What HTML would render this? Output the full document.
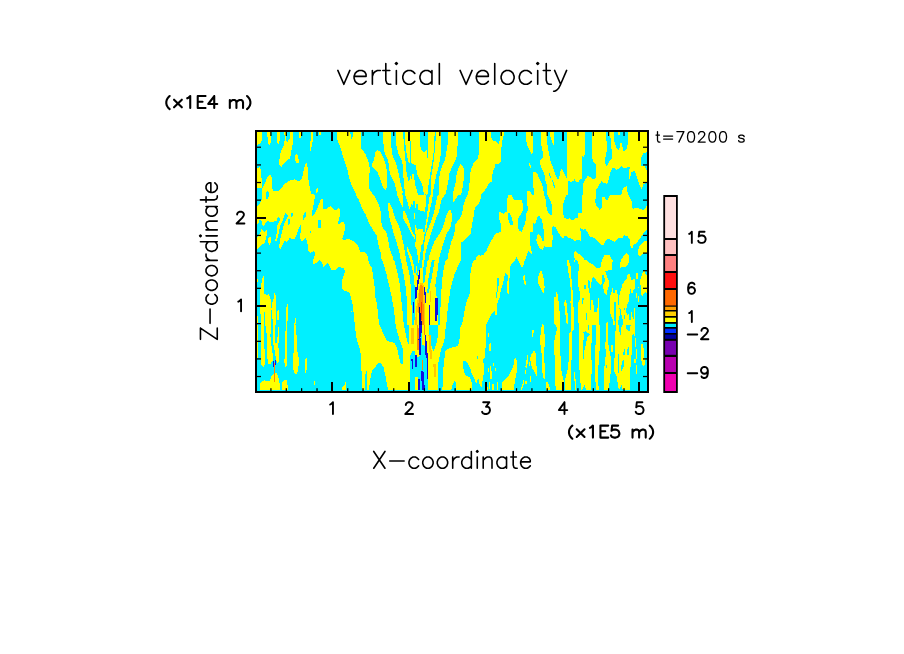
<!DOCTYPE html><html><head><meta charset="utf-8"><title>vertical velocity</title>
<style>html,body{margin:0;padding:0;background:#fff;font-family:"Liberation Sans",sans-serif}svg{display:block}</style></head><body>
<svg width="904" height="654" viewBox="0 0 904 654">
<rect width="904" height="654" fill="#fff"/>
<rect x="256" y="131" width="392" height="261" fill="#00f0ff"/>
<clipPath id="pc"><rect x="256" y="131" width="392" height="261"/></clipPath>
<g shape-rendering="crispEdges" clip-path="url(#pc)">
<svg x="255" y="130" width="80" height="65" viewBox="0 0 805 654" preserveAspectRatio="none">
<rect width="805" height="654" fill="#00f0ff"/>
<polygon fill="#ffff00" points="20,20 70,20 70,110 50,135 20,150"/>
<polygon fill="#ffff00" points="120,20 160,20 165,90 155,140 145,150 130,130 125,60"/>
<polygon fill="#ffff00" points="225,20 252,20 250,100 240,140 225,125 220,80"/>
<polygon fill="#ffff00" points="295,20 312,20 312,100 325,120 350,90 350,20 382,20 382,140 370,180 355,280 290,340 265,370 240,345 250,260 265,200 290,150 300,100"/>
<polygon fill="#ffff00" points="443,20 468,20 465,75 455,90 445,70"/>
<polygon fill="#ffff00" points="565,20 585,20 582,100 570,160 560,210 552,200 555,140 562,80"/>
<polygon fill="#ffff00" points="645,20 665,20 662,45 648,50"/>
<polygon fill="#ffff00" points="410,245 425,240 432,270 442,300 442,330 415,328 403,310 403,260"/>
<polygon fill="#ffff00" points="20,390 45,370 60,400 65,480 72,530 72,585 20,585"/>
<polygon fill="#ffff00" points="72,654 72,585 100,540 120,480 145,455 165,455 170,520 172,590 185,610 240,610 265,590 290,550 330,520 355,508 400,495 430,510 450,510 475,480 490,400 505,345 520,335 530,380 535,480 545,540 555,600 565,640 600,650 600,654"/>
<polygon fill="#00f0ff" points="108,654 112,625 125,612 138,625 142,654"/>
<polygon fill="#ffff00" points="625,585 635,585 632,615 620,635 610,625 615,600"/>
</svg>
<svg x="335" y="130" width="80" height="65" viewBox="0 0 805 654" preserveAspectRatio="none">
<rect width="805" height="654" fill="#00f0ff"/>
<polygon fill="#ffff00" points="20,20 262,20 262,180 310,250 335,310 350,380 345,480 345,590 385,654 215,654 190,600 160,540 135,450 120,380 95,310 70,230 45,150 20,90"/>
<polygon fill="#00f0ff" points="155,20 180,20 178,65 165,88 157,60"/>
<polygon fill="#ffff00" points="425,200 445,210 470,240 495,300 515,370 525,430 525,560 510,605 490,590 470,540 450,480 425,420 400,400 375,375 375,340 395,290 405,230"/>
<polygon fill="#ffff00" points="485,20 565,20 565,150 580,260 600,300 625,370 640,440 660,540 680,620 678,654 627,654 615,600 600,535 580,500 560,460 545,400 535,300 510,260 490,200"/>
<polygon fill="#ffff00" points="612,20 685,20 690,100 698,200 708,290 712,340 715,400 730,470 740,510 750,500 752,460 760,460 765,500 775,490 780,440 790,440 795,470 800,500 805,510 805,654 705,654 700,600 690,500 685,360 670,300 640,240 615,150"/>
<polygon fill="#ffff00" points="700,20 765,20 765,110 750,110 752,330 740,320 728,280 715,200 705,110"/>
<polygon fill="#ffff00" points="765,20 805,20 805,352 790,345 768,332 765,200"/>
</svg>
<svg x="415" y="130" width="80" height="65" viewBox="0 0 805 654" preserveAspectRatio="none">
<rect width="805" height="654" fill="#ffff00"/>
<polygon fill="#00f0ff" points="50,20 130,20 130,280 120,280 118,200 100,210 90,230 70,210 55,170 50,100"/>
<polygon fill="#00f0ff" points="0,350 10,360 15,400 25,450 45,490 65,530 80,580 90,654 30,654 20,610 5,560 0,540"/>
<polygon fill="#00f0ff" points="197,20 210,20 205,150 195,240 188,310 175,400 165,460 160,540 160,654 125,654 135,560 150,470 160,400 175,310 185,240 195,150"/>
<polygon fill="#00f0ff" points="98,565 104,565 106,654 96,654"/>
<polygon fill="#00f0ff" points="262,20 330,20 330,130 315,230 300,300 270,370 250,440 240,520 240,654 185,654 185,600 200,520 215,450 235,380 250,300 262,230"/>
<polygon fill="#00f0ff" points="432,20 645,20 645,230 630,290 590,330 570,380 555,430 550,520 540,600 535,654 465,654 475,600 488,520 492,440 490,380 460,340 440,370 420,440 410,520 395,580 380,654 305,654 320,590 335,520 345,440 365,390 400,320 420,260 425,200 432,100"/>
<polygon fill="#00f0ff" points="765,20 805,20 805,110 780,105 765,70"/>
<polygon fill="#00f0ff" points="805,370 790,400 775,470 770,520 740,540 715,590 690,625 665,654 805,654"/>
</svg>
<svg x="495" y="130" width="80" height="65" viewBox="0 0 805 654" preserveAspectRatio="none">
<rect width="805" height="654" fill="#00f0ff"/>
<polygon fill="#ffff00" points="0,100 15,125 35,140 50,100 50,20 90,20 85,70 70,120 65,180 58,320 40,340 0,340"/>
<polygon fill="#ffff00" points="312,20 380,20 380,120 383,220 368,240 345,200 322,150 312,100"/>
<polygon fill="#ffff00" points="345,330 352,335 362,370 360,385 350,375 342,350"/>
<polygon fill="#ffff00" points="555,20 595,20 595,140 585,150 570,110 555,60"/>
<polygon fill="#ffff00" points="683,20 697,20 695,55 685,50"/>
<polygon fill="#ffff00" points="462,20 525,20 525,130 540,220 555,300 580,370 600,430 625,490 640,490 655,450 660,400 672,395 690,420 715,480 722,490 722,20 805,20 805,480 790,510 765,530 745,505 735,520 735,654 525,654 525,570 510,520 495,440 475,400 452,340 455,300 480,285 480,220 465,150"/>
<polygon fill="#00f0ff" points="545,430 552,440 562,475 558,480 548,465"/>
<polygon fill="#00f0ff" points="575,495 585,510 600,560 600,580 590,570 578,525"/>
<polygon fill="#ffff00" points="380,425 405,425 430,450 450,500 475,550 490,620 492,654 395,654 385,560 380,480"/>
<polygon fill="#ffff00" points="322,618 345,615 360,630 372,654 322,654"/>
</svg>
<svg x="575" y="130" width="80" height="65" viewBox="0 0 805 654" preserveAspectRatio="none">
<rect width="805" height="654" fill="#ffff00"/>
<polygon fill="#00f0ff" points="100,20 170,20 170,280 185,320 210,345 210,480 185,495 160,480 130,455 110,490 85,530 80,654 0,654 0,510 30,530 50,500 68,490 72,265 90,270 100,240"/>
<polygon fill="#00f0ff" points="312,20 335,20 335,60 355,60 365,140 372,290 345,310 330,355 315,360 303,340 303,290 315,240 325,130 312,100"/>
<polygon fill="#00f0ff" points="392,20 432,20 435,55 452,55 455,20 530,20 530,150 515,205 485,208 470,130 455,125 450,170 440,200 420,190 405,140 392,110"/>
<polygon fill="#00f0ff" points="375,378 395,385 420,400 445,385 465,365 485,380 550,375 548,400 545,490 555,490 565,430 590,410 605,420 625,480 650,560 670,590 690,545 724,530 724,654 530,654 525,565 495,575 475,610 465,654 210,654 215,600 240,560 265,515 290,535 325,540 340,490 355,430"/>
<polygon fill="#00f0ff" points="724,225 690,235 668,270 665,360 700,360 715,400 724,412"/>
</svg>
<svg x="255" y="195" width="80" height="65" viewBox="0 0 805 654" preserveAspectRatio="none">
<rect width="805" height="654" fill="#ffff00"/>
<polygon fill="#00f0ff" points="20,0 70,0 68,50 45,90 20,120"/>
<polygon fill="#00f0ff" points="112,0 140,0 135,20 125,45 112,40"/>
<polygon fill="#00f0ff" points="605,0 805,0 805,160 785,140 760,110 740,125 720,140 685,140 682,35 660,50 640,100 615,160 600,190 575,210 572,180 585,120 598,50"/>
<polygon fill="#00f0ff" points="20,300 35,280 45,250 65,250 68,300 90,310 120,265 180,270 216,262 227,227 243,224 251,243 247,266 228,293 216,393 204,462 212,481 231,424 243,354 258,293 281,254 302,185 312,181 327,201 331,216 308,254 281,331 262,408 247,485 243,531 258,543 281,500 293,462 324,470 354,424 366,447 393,447 416,408 439,339 458,301 462,331 454,431 470,470 503,439 510,435 525,470 535,540 540,575 560,580 585,565 600,570 600,610 585,654 20,654 20,545 60,510 95,480 110,440 120,400 120,345 95,370 65,345 45,395 20,430"/>
<polygon fill="#ffff00" points="139,424 158,424 158,485 147,500 131,477 131,454"/>
<polygon fill="#00f0ff" points="362,181 381,181 381,201 370,224 362,216"/>
<polygon fill="#00f0ff" points="335,243 351,243 351,293 335,308"/>
<polygon fill="#00f0ff" points="500,175 515,170 512,210 490,250 482,240 488,205"/>
<polygon fill="#00f0ff" points="635,250 662,255 662,335 635,335"/>
<polygon fill="#00f0ff" points="552,362 565,362 565,382 552,382"/>
</svg>
<svg x="335" y="195" width="80" height="65" viewBox="0 0 805 654" preserveAspectRatio="none">
<rect width="805" height="654" fill="#00f0ff"/>
<polygon fill="#ffff00" points="0,160 35,130 50,145 48,210 35,260 30,300 75,270 95,280 100,350 85,400 72,440 88,460 120,440 150,445 190,465 225,500 245,545 250,570 300,575 325,600 332,654 0,654"/>
<polygon fill="#ffff00" points="210,0 395,0 415,50 445,110 460,170 465,270 475,320 520,380 535,450 545,520 560,570 580,620 590,654 470,654 460,580 445,530 430,470 420,410 375,340 340,280 310,200 270,130 240,50"/>
<polygon fill="#ffff00" points="535,85 552,85 575,130 600,220 630,280 655,350 675,430 690,500 705,590 715,654 660,654 650,590 635,530 615,460 590,390 570,310 548,230 535,140"/>
<polygon fill="#ffff00" points="627,0 680,0 688,60 686,130 668,100 645,50"/>
<polygon fill="#ffff00" points="705,0 805,0 805,55 785,60 780,100 770,95 760,120 750,140 740,110 725,60"/>
<polygon fill="#ffff00" points="685,165 700,165 720,200 745,270 770,350 795,400 805,410 805,450 785,420 760,370 735,320 710,280 690,250 685,200"/>
<polygon fill="#ffff00" points="795,180 805,180 805,250 795,240"/>
<polygon fill="#ffff00" points="725,525 735,525 750,570 770,610 775,654 755,654 745,620 730,580"/>
</svg>
<svg x="415" y="195" width="80" height="65" viewBox="0 0 805 654" preserveAspectRatio="none">
<rect width="805" height="654" fill="#00f0ff"/>
<polygon fill="#ffff00" points="0,0 110,0 108,100 100,180 85,165 60,165 40,150 30,150 25,90 15,95 15,180 0,110"/>
<polygon fill="#ffff00" points="150,0 180,0 170,60 155,130 140,200 130,260 120,285 115,340 110,375 100,375 102,340 108,285 112,260 122,200 130,130 140,60"/>
<polygon fill="#ffff00" points="230,0 300,0 270,40 255,100 240,170 215,230 189,302 167,367 145,447 120,519 105,591 96,654 76,654 84,577 94,483 113,374 135,330 160,270 185,200 200,130 215,60"/>
<polygon fill="#ffff00" points="345,150 360,150 372,200 370,260 355,330 330,370 310,410 290,470 270,540 250,610 240,654 135,654 150,590 170,530 195,470 225,420 255,380 280,330 300,260 320,190"/>
<polygon fill="#ffff00" points="385,0 435,0 420,30 395,60 385,70"/>
<polygon fill="#ffff00" points="530,0 665,0 660,40 640,90 600,130 595,200 580,260 570,320 565,380 540,410 500,450 465,480 460,654 325,654 335,590 350,530 365,470 385,420 400,360 405,300 425,265 450,240 470,200 480,150 490,90 510,40"/>
<polygon fill="#ffff00" points="805,400 785,430 760,470 740,510 720,560 690,600 660,612 640,605 612,630 612,654 805,654"/>
<polygon fill="#ffff00" points="29,342 84,342 84,370 98,370 95,403 87,446 76,490 58,512 58,570 51,591 47,635 45,654 33,654 31,635 22,591 22,570 18,519 11,446 4,381 22,374 22,352"/>
<polygon fill="#ffff00" points="-10,302 8,302 11,330 22,345 22,374 4,381 0,345"/>
<polygon fill="#ffff00" points="-50,356 -36,367 -18,410 0,454 15,497 22,541 22,570 11,533 -14,512 -29,447 -50,418"/>
</svg>
<svg x="495" y="195" width="80" height="65" viewBox="0 0 805 654" preserveAspectRatio="none">
<rect width="805" height="654" fill="#ffff00"/>
<polygon fill="#00f0ff" points="0,0 130,0 122,60 122,150 128,160 100,175 85,190 60,175 40,175 40,240 55,270 60,370 35,380 0,390"/>
<polygon fill="#00f0ff" points="170,0 325,0 325,70 330,160 315,190 305,280 285,330 270,370 250,365 232,340 232,245 245,210 265,190 278,160 282,100 272,55 235,50 200,55 180,30"/>
<polygon fill="#00f0ff" points="132,185 150,180 165,220 180,270 178,300 152,298 135,250"/>
<polygon fill="#00f0ff" points="495,0 530,0 550,40 570,90 575,150 572,200 545,195 525,160 515,100 508,40"/>
<polygon fill="#00f0ff" points="715,0 805,0 805,240 780,255 750,235 720,240 695,230 685,180 688,90 700,50"/>
<polygon fill="#00f0ff" points="380,285 405,290 415,260 430,215 450,215 470,250 480,290 490,350 492,460 475,465 465,420 440,395 425,410 415,450 430,500 450,535 480,550 495,515 515,525 575,525 580,430 575,320 590,312 615,330 640,380 665,420 685,440 705,405 740,430 775,440 805,465 805,570 790,590 790,620 805,640 805,654 305,654 320,610 335,555 350,580 378,605 365,550 352,480 352,375 380,370"/>
<polygon fill="#00f0ff" points="200,654 215,622 235,654"/>
</svg>
<svg x="575" y="195" width="80" height="65" viewBox="0 0 805 654" preserveAspectRatio="none">
<rect width="805" height="654" fill="#ffff00"/>
<polygon fill="#00f0ff" points="0,0 70,0 68,180 35,185 25,230 0,235"/>
<polygon fill="#00f0ff" points="210,0 360,0 340,20 325,55 310,50 300,25 275,25 270,130 250,150 215,110 203,70"/>
<polygon fill="#00f0ff" points="540,0 724,0 724,110 700,140 690,150 620,130 580,140 570,60 555,30"/>
<polygon fill="#00f0ff" points="50,325 80,350 105,345 130,375 150,420 190,430 230,470 265,500 290,500 315,450 330,435 370,455 400,470 435,435 475,435 490,405 530,415 550,450 560,520 575,540 590,500 625,480 650,440 680,400 710,360 724,345 724,460 690,470 660,500 640,530 635,600 655,615 690,590 724,580 724,654 545,654 540,610 520,585 490,610 465,654 375,654 350,605 295,605 270,654 100,654 50,600 0,565 0,470 30,445 55,465 60,400"/>
</svg>
<svg x="255" y="260" width="80" height="65" viewBox="0 0 805 654" preserveAspectRatio="none">
<rect width="805" height="654" fill="#00f0ff"/>
<polygon fill="#ffff00" points="585,0 805,0 805,100 770,105 755,70 735,25 710,45 690,70 675,25 655,0 640,5 610,35 585,38"/>
<polygon fill="#ffff00" points="80,165 90,165 92,340 115,350 135,345 150,370 160,400 160,654 62,654 50,450 50,300 62,250 72,200"/>
<polygon fill="#00f0ff" points="92,525 100,525 100,654 92,654"/>
<polygon fill="#ffff00" points="195,335 203,335 210,380 210,654 185,654 172,560 165,490 172,430 185,400"/>
<polygon fill="#ffff00" points="225,510 240,505 240,605 222,610"/>
<polygon fill="#ffff00" points="322,445 330,445 330,600 322,654 312,654 315,480"/>
<polygon fill="#ffff00" points="403,585 412,585 412,640 405,654 395,654"/>
<polygon fill="#ffff00" points="20,190 28,190 28,220 20,220"/>
<polygon fill="#ffff00" points="20,565 30,570 30,630 20,635"/>
</svg>
<svg x="335" y="260" width="80" height="65" viewBox="0 0 805 654" preserveAspectRatio="none">
<rect width="805" height="654" fill="#00f0ff"/>
<polygon fill="#ffff00" points="0,0 335,0 350,50 372,80 385,170 398,260 405,370 420,430 435,560 442,654 200,654 190,560 180,460 165,400 150,330 120,315 80,305 70,270 72,200 90,150 100,120 90,80 40,72 0,100"/>
<polygon fill="#ffff00" points="475,0 595,0 615,70 640,180 655,270 665,390 680,520 692,654 610,654 605,600 590,480 570,370 545,260 520,150 495,60"/>
<polygon fill="#ffff00" points="665,0 715,0 730,60 750,150 762,260 768,400 775,600 780,654 725,654 722,400 715,300 700,200 680,90"/>
<polygon fill="#ffff00" points="755,0 785,0 795,80 800,130 805,140 805,360 800,250 790,150 775,80 762,30"/>
<polygon fill="#ffff00" points="790,620 805,600 805,654 790,654"/>
<polygon fill="#1010e0" points="785,425 795,425 795,530 785,530"/>
<polygon fill="#ffff00" points="160,512 170,512 170,522 160,522"/>
</svg>
<svg x="415" y="260" width="80" height="65" viewBox="0 0 805 654" preserveAspectRatio="none">
<rect width="805" height="654" fill="#ffff00"/>
<polygon fill="#00f0ff" points="465,0 600,0 575,30 560,120 550,200 550,340 525,400 505,480 490,560 478,620 470,654 315,654 322,560 335,450 345,380 355,300 375,220 395,150 420,90 445,40"/>
<polygon fill="#00f0ff" points="240,0 310,0 290,80 278,160 270,260 262,350 258,450 252,560 250,654 235,654 235,500 225,400 210,330 205,250 215,180 228,100"/>
<polygon fill="#00f0ff" points="170,0 200,0 192,30 181,111 165,192 154,246 145,300 135,330 125,330 127,246 135,192 149,111 165,30"/>
<polygon fill="#00f0ff" points="-50,-50 141,-50 122,30 111,111 100,192 92,246 76,219 65,219 65,84 49,84 49,100 39,100 30,133 22,176 12,219 -23,192 -23,302 -50,302"/>
<polygon fill="#ffff00" points="22,-50 49,-50 47,-23 41,30 30,30 30,-23"/>
<polygon fill="#ffff00" points="9,60 20,60 20,127 9,127"/>
<polygon fill="#ffff00" points="82,-50 100,-50 95,4 87,57 82,111 79,165 76,219 65,219 65,84 71,4"/>
<polygon fill="#ffff00" points="-50,-50 -31,-50 -26,4 -13,57 -2,111 22,165 22,176 12,219 -23,192 -21,165 -23,111 -31,57 -50,4"/>
<polygon fill="#00f0ff" points="805,505 770,545 740,600 715,654 805,654"/>
<polygon fill="#ffc800" points="50,230 80,230 95,300 100,400 100,654 0,654 10,500 25,400 40,300"/>
<polygon fill="#ff8c00" points="48,250 75,250 85,400 90,654 40,654 30,500 40,380"/>
<polygon fill="#ff4000" points="57,340 63,340 68,500 70,600 62,600 58,500"/>
<polygon fill="#ffc800" points="150,310 162,310 165,420 155,420"/>
<polygon fill="#ffff00" points="20,520 35,520 40,654 15,654"/>
<polygon fill="#1010e0" points="39,100 49,100 49,176 39,219 25,302 15,385 2,385 12,300 22,219 30,176 39,127"/>
<polygon fill="#1010e0" points="90,270 100,270 115,400 112,430 105,430 95,350"/>
<polygon fill="#1010e0" points="205,385 230,385 232,480 222,610 205,610 203,480"/>
<polygon fill="#1010e0" points="140,450 152,450 155,654 143,654"/>
<polygon fill="#000090" points="35,470 45,470 60,560 70,654 45,654 40,560"/>
<polygon fill="#1010e0" points="0,270 10,270 8,390 0,390"/>
</svg>
<svg x="495" y="260" width="80" height="65" viewBox="0 0 805 654" preserveAspectRatio="none">
<rect width="805" height="654" fill="#00f0ff"/>
<polygon fill="#ffff00" points="0,0 205,0 175,30 152,65 150,180 140,185 138,340 125,330 122,240 130,180 125,150 105,130 95,165 80,240 60,300 45,380 25,430 20,550 0,560"/>
<polygon fill="#00f0ff" points="25,185 38,175 40,230 30,300 12,400 5,400 20,290"/>
<polygon fill="#ffff00" points="230,0 300,0 290,40 278,70 262,65 245,30"/>
<polygon fill="#ffff00" points="285,160 298,150 302,200 312,215 312,260 300,250 290,210 282,190"/>
<polygon fill="#ffff00" points="455,112 470,112 480,150 492,200 495,260 500,270 492,330 478,325 455,280 435,240 432,170 445,140"/>
<polygon fill="#ffff00" points="615,322 625,325 635,360 640,420 650,520 655,560 655,654 600,654 595,600 595,375 610,370"/>
<polygon fill="#ffff00" points="705,402 715,405 722,440 728,520 735,560 735,654 720,640 712,600 708,520 705,470 695,465 695,440"/>
<polygon fill="#ffff00" points="725,0 740,0 760,60 768,180 778,260 785,400 792,500 795,654 768,654 770,560 768,440 755,430 765,400 762,300 755,200 745,160 735,100 728,50"/>
<polygon fill="#ffff00" points="790,0 805,0 805,20 795,15"/>
<polygon fill="#ffff00" points="470,648 485,648 488,654 468,654"/>
</svg>
<svg x="575" y="260" width="80" height="65" viewBox="0 0 805 654" preserveAspectRatio="none">
<rect width="805" height="654" fill="#00f0ff"/>
<polygon fill="#ffff00" points="20,0 120,0 150,30 180,45 215,85 245,85 260,60 270,0 380,0 370,100 305,110 320,165 340,210 340,260 325,310 320,360 300,340 285,290 285,250 300,215 295,160 275,150 275,230 260,260 240,240 210,200 190,170 170,180 165,230 160,290 150,280 150,210 135,200 130,260 145,310 150,400 155,654 40,654 30,620 30,500 35,420 50,400 50,330 30,250 30,110 45,100 45,60"/>
<polygon fill="#00f0ff" points="92,250 110,250 110,290 92,290"/>
<polygon fill="#00f0ff" points="70,385 88,385 80,440 68,440"/>
<polygon fill="#00f0ff" points="110,535 120,535 120,600 110,600"/>
<polygon fill="#ffff00" points="165,400 185,400 188,520 225,525 230,385 245,385 245,654 155,654 155,520"/>
<polygon fill="#ffff00" points="375,285 385,285 385,330 395,340 410,300 422,300 422,340 432,350 435,420 440,480 450,500 450,560 440,560 435,654 385,654 385,600 370,590 360,540 352,540 352,380 360,340 370,320"/>
<polygon fill="#00f0ff" points="395,420 412,420 415,654 400,654 395,560"/>
<polygon fill="#ffff00" points="318,630 332,625 335,654 315,654"/>
<polygon fill="#ffff00" points="530,145 550,140 560,175 565,205 585,195 600,190 605,230 600,290 585,300 580,330 570,350 565,300 555,290 550,340 540,350 540,420 530,440 520,470 515,520 525,560 540,540 545,600 560,600 565,520 575,520 580,590 590,600 595,480 605,480 605,654 480,654 480,600 470,560 460,500 445,480 440,400 450,340 465,290 480,240 500,210 520,190"/>
<polygon fill="#00f0ff" points="495,485 505,485 505,500 495,500"/>
<polygon fill="#00f0ff" points="495,555 505,555 505,590 495,590"/>
<polygon fill="#00f0ff" points="530,540 538,540 538,580 530,580"/>
<polygon fill="#ffff00" points="470,0 545,0 540,30 520,60 500,75 470,70 455,78 455,30"/>
<polygon fill="#ffff00" points="690,112 700,112 715,150 724,150 724,330 705,325 690,340 680,360 668,350 665,290 655,230 660,190 672,150"/>
<polygon fill="#ffff00" points="615,135 632,135 632,190 615,190"/>
<polygon fill="#ffff00" points="612,335 622,335 622,380 612,380"/>
<polygon fill="#ffff00" points="635,365 645,365 645,420 635,420"/>
<polygon fill="#ffff00" points="632,270 645,270 645,282 632,282"/>
</svg>
<svg x="255" y="325" width="80" height="65" viewBox="0 0 805 654" preserveAspectRatio="none">
<rect width="805" height="654" fill="#00f0ff"/>
<polygon fill="#ffff00" points="20,0 30,0 30,335 20,335"/>
<polygon fill="#ffff00" points="62,0 92,0 95,240 105,310 105,390 85,420 65,400 62,300"/>
<polygon fill="#ffff00" points="105,0 160,0 162,80 150,100 165,150 168,300 180,280 180,360 150,395 128,390 122,250 118,100"/>
<polygon fill="#ffff00" points="182,0 200,0 200,150 210,200 225,150 232,20 242,20 240,150 232,230 242,240 240,370 225,380 210,350 205,300 200,260 190,240 182,150"/>
<polygon fill="#ffff00" points="310,0 322,0 322,100 318,200 322,330 322,410 305,420 300,390 292,380 292,345 302,330 300,200 305,100"/>
<polygon fill="#ffff00" points="392,0 412,0 418,100 420,250 432,280 440,330 440,400 430,470 415,495 395,480 382,440 382,290 395,270 395,100"/>
<polygon fill="#ffff00" points="510,335 522,332 522,430 512,480 502,478 502,350"/>
<polygon fill="#ffff00" points="50,654 50,590 70,565 95,555 120,565 150,560 165,510 185,500 195,480 215,480 232,520 245,545 250,654"/>
<polygon fill="#ffff00" points="272,654 275,580 290,555 318,552 322,590 332,610 332,654"/>
<polygon fill="#ffff00" points="593,565 603,565 603,605 593,605"/>
<polygon fill="#1010e0" points="180,365 190,360 190,420 180,420"/>
<polygon fill="#1010e0" points="203,352 212,352 212,400 203,400"/>
<polygon fill="#ff8c00" points="192,380 200,380 198,570 193,570"/>
</svg>
<svg x="335" y="325" width="80" height="65" viewBox="0 0 805 654" preserveAspectRatio="none">
<rect width="805" height="654" fill="#00f0ff"/>
<polygon fill="#ffff00" points="200,0 450,0 470,50 490,90 510,140 530,165 575,170 600,185 620,220 635,280 650,350 665,395 685,395 685,250 670,200 650,150 635,100 620,50 612,0 695,0 705,60 720,130 735,190 745,195 748,100 745,0 805,0 805,260 775,265 760,300 750,430 750,560 760,654 535,654 520,580 505,500 490,430 465,385 430,385 400,430 375,455 360,520 350,590 340,654 320,654 322,560 320,465 310,470 300,540 298,654 270,654 268,500 262,300 245,230 225,170 210,100"/>
<polygon fill="#ffff00" points="70,654 75,625 95,605 105,575 112,600 115,654"/>
<polygon fill="#ffc800" points="765,30 790,30 790,195 768,195"/>
<polygon fill="#1010e0" points="768,340 782,340 785,440 775,440"/>
</svg>
<svg x="415" y="325" width="80" height="65" viewBox="0 0 805 654" preserveAspectRatio="none">
<rect width="805" height="654" fill="#ffff00"/>
<polygon fill="#00f0ff" points="140,0 235,0 232,80 225,150 205,220 185,260 170,230 155,170 145,100"/>
<polygon fill="#00f0ff" points="310,0 460,0 455,60 445,180 430,210 380,225 320,245 305,270 295,350 285,440 280,560 275,654 232,654 230,560 235,380 250,300 265,240 285,190 300,130"/>
<polygon fill="#00f0ff" points="485,365 510,365 540,400 560,450 575,500 600,545 615,590 615,654 575,654 570,580 550,520 515,515 495,480 485,420"/>
<polygon fill="#00f0ff" points="715,0 805,0 805,654 740,654 720,600 700,654 610,654 615,600 625,560 640,545 650,600 670,620 680,560 690,500 695,350 705,300 712,200"/>
<polygon fill="#ffff00" points="735,80 745,80 745,120 735,120"/>
<polygon fill="#ffff00" points="750,185 765,185 762,260 748,265"/>
<polygon fill="#ffff00" points="785,380 795,380 795,410 785,410"/>
<polygon fill="#ffff00" points="755,415 765,415 768,460 780,480 770,540 760,540 755,480"/>
<polygon fill="#ffff00" points="735,430 745,430 745,470 735,470"/>
<polygon fill="#ffff00" points="742,570 752,570 752,640 742,640"/>
<polygon fill="#ffff00" points="775,590 790,590 790,654 775,654"/>
<polygon fill="#00f0ff" points="395,565 410,580 412,654 365,654 375,610"/>
<polygon fill="#00f0ff" points="625,315 635,315 635,340 625,340"/>
<polygon fill="#00f0ff" points="685,345 693,345 693,380 685,380"/>
<polygon fill="#00f0ff" points="0,380 20,330 60,300 110,300 130,330 132,654 0,654"/>
<polygon fill="#00f0ff" points="50,60 70,60 72,200 95,200 100,300 60,300 50,200"/>
<polygon fill="#ffff00" points="0,520 28,520 30,654 0,654"/>
<polygon fill="#ff8c00" points="20,0 35,0 38,250 25,250"/>
<polygon fill="#1010e0" points="40,0 68,0 70,60 55,120 65,300 45,300 35,150"/>
<polygon fill="#ff8c00" points="88,0 100,0 102,100 92,100"/>
<polygon fill="#1010e0" points="100,100 115,100 118,300 105,300"/>
<polygon fill="#1010e0" points="115,280 130,280 132,540 120,540"/>
<polygon fill="#ff8c00" points="70,350 85,350 85,450 72,450"/>
<polygon fill="#1010e0" points="30,540 50,540 50,654 30,654"/>
<polygon fill="#1010e0" points="60,460 85,460 100,654 70,654"/>
<polygon fill="#1010e0" points="5,300 20,300 18,420 5,420"/>
<polygon fill="#ffc800" points="135,100 160,100 170,340 150,340"/>
<polygon fill="#ffc800" points="185,390 215,390 215,520 190,520"/>
</svg>
<svg x="495" y="325" width="80" height="65" viewBox="0 0 805 654" preserveAspectRatio="none">
<rect width="805" height="654" fill="#00f0ff"/>
<polygon fill="#ffff00" points="72,654 72,580 100,550 130,520 160,470 185,410 195,340 205,325 218,350 218,480 205,540 195,600 190,654"/>
<polygon fill="#ffff00" points="470,0 490,0 498,80 500,200 492,300 500,400 505,550 490,540 478,480 470,380 468,280 455,180 455,120 465,60"/>
<polygon fill="#ffff00" points="385,265 405,265 412,300 415,380 422,450 422,520 405,490 390,450 375,440 362,400 355,350 358,310 375,285"/>
<polygon fill="#ffff00" points="322,305 332,305 330,380 318,430 305,420 315,380"/>
<polygon fill="#ffff00" points="345,375 355,375 352,410 345,410"/>
<polygon fill="#ffff00" points="375,55 390,50 385,115 372,120"/>
<polygon fill="#ffff00" points="302,455 312,455 312,490 302,490"/>
<polygon fill="#ffff00" points="352,515 362,515 362,570 352,570"/>
<polygon fill="#ffff00" points="305,565 320,565 320,590 305,590"/>
<polygon fill="#ffff00" points="285,555 292,555 285,620 265,654 255,654 275,600"/>
<polygon fill="#ffff00" points="612,0 655,0 655,100 650,200 660,320 665,440 680,520 690,560 700,654 612,654 605,560 605,400 595,240 595,170 610,100 625,40"/>
<polygon fill="#ffff00" points="745,80 770,60 765,0 790,0 795,40 780,60 778,200 770,350 760,450 765,654 700,654 705,560 720,490 735,440 745,300 742,180"/>
<polygon fill="#ffff00" points="515,575 530,578 545,600 555,654 512,654"/>
<polygon fill="#ffff00" points="0,435 10,435 10,460 0,460"/>
<polygon fill="#ffff00" points="18,575 28,575 28,654 18,654"/>
<polygon fill="#ffff00" points="790,470 800,470 800,560 790,560"/>
</svg>
<svg x="575" y="325" width="80" height="65" viewBox="0 0 805 654" preserveAspectRatio="none">
<rect width="805" height="654" fill="#00f0ff"/>
<polygon fill="#ffff00" points="40,0 175,0 170,100 165,200 160,290 170,400 165,520 160,654 110,654 100,600 80,640 70,654 60,654 50,500 40,400 45,250 38,150"/>
<polygon fill="#00f0ff" points="85,75 105,60 120,75 135,80 150,95 120,130 110,200 95,250 92,390 80,300 78,200 90,120"/>
<polygon fill="#00f0ff" points="130,0 145,0 140,50 130,45"/>
<polygon fill="#ffff00" points="215,0 250,0 250,200 245,300 235,420 232,560 240,654 215,654 205,560 205,420 200,280 210,150"/>
<polygon fill="#ffff00" points="315,0 335,0 330,150 345,250 360,330 365,420 355,520 345,600 340,654 290,654 290,480 300,380 310,300 305,200 312,100"/>
<polygon fill="#00f0ff" points="312,400 322,400 322,430 312,430"/>
<polygon fill="#ffff00" points="365,205 380,200 382,270 368,280 362,240"/>
<polygon fill="#ffff00" points="415,0 440,0 450,90 460,100 470,0 510,0 515,40 530,50 545,70 555,40 560,0 600,0 600,110 585,90 570,110 575,290 560,320 560,400 555,500 550,654 480,654 470,600 440,654 430,580 415,500 395,470 395,350 405,280 400,200 402,100"/>
<polygon fill="#00f0ff" points="432,295 442,295 445,420 440,490 430,480"/>
<polygon fill="#00f0ff" points="480,350 495,350 498,400 478,440 470,470 462,430"/>
<polygon fill="#00f0ff" points="525,250 545,215 545,300 530,310 522,290"/>
<polygon fill="#00f0ff" points="488,270 500,240 500,300 488,305"/>
<polygon fill="#ffff00" points="605,130 615,130 615,220 605,220"/>
<polygon fill="#ffff00" points="612,240 625,240 625,340 612,340"/>
<polygon fill="#ffff00" points="597,345 610,345 610,385 597,385"/>
<polygon fill="#ffff00" points="615,400 625,400 625,490 615,490"/>
<polygon fill="#ffff00" points="668,190 685,190 690,240 695,300 705,370 700,400 688,420 675,400 668,350 668,260"/>
<polygon fill="#ffff00" points="0,545 10,545 10,654 0,654"/>
<polygon fill="#ffff00" points="70,540 78,540 78,610 70,610"/>
</svg>
</g>
<g fill="#000" shape-rendering="crispEdges">
<rect x="255" y="130" width="394" height="2"/>
<rect x="255" y="391" width="394" height="2"/>
<rect x="255" y="130" width="2" height="263"/>
<rect x="647" y="130" width="2" height="263"/>
<rect x="270.3" y="132" width="1.25" height="4" shape-rendering="auto"/>
<rect x="270.3" y="388.2" width="1.25" height="3.3" shape-rendering="auto"/>
<rect x="285.7" y="132" width="1.25" height="4" shape-rendering="auto"/>
<rect x="285.7" y="388.2" width="1.25" height="3.3" shape-rendering="auto"/>
<rect x="301.0" y="132" width="1.25" height="4" shape-rendering="auto"/>
<rect x="301.0" y="388.2" width="1.25" height="3.3" shape-rendering="auto"/>
<rect x="316.4" y="132" width="1.25" height="4" shape-rendering="auto"/>
<rect x="316.4" y="388.2" width="1.25" height="3.3" shape-rendering="auto"/>
<rect x="331.4" y="132" width="2" height="9"/>
<rect x="331.4" y="382" width="2" height="9"/>
<rect x="347.1" y="132" width="1.25" height="4" shape-rendering="auto"/>
<rect x="347.1" y="388.2" width="1.25" height="3.3" shape-rendering="auto"/>
<rect x="362.4" y="132" width="1.25" height="4" shape-rendering="auto"/>
<rect x="362.4" y="388.2" width="1.25" height="3.3" shape-rendering="auto"/>
<rect x="377.8" y="132" width="1.25" height="4" shape-rendering="auto"/>
<rect x="377.8" y="388.2" width="1.25" height="3.3" shape-rendering="auto"/>
<rect x="393.1" y="132" width="1.25" height="4" shape-rendering="auto"/>
<rect x="393.1" y="388.2" width="1.25" height="3.3" shape-rendering="auto"/>
<rect x="408.1" y="132" width="2" height="9"/>
<rect x="408.1" y="382" width="2" height="9"/>
<rect x="423.8" y="132" width="1.25" height="4" shape-rendering="auto"/>
<rect x="423.8" y="388.2" width="1.25" height="3.3" shape-rendering="auto"/>
<rect x="439.2" y="132" width="1.25" height="4" shape-rendering="auto"/>
<rect x="439.2" y="388.2" width="1.25" height="3.3" shape-rendering="auto"/>
<rect x="454.5" y="132" width="1.25" height="4" shape-rendering="auto"/>
<rect x="454.5" y="388.2" width="1.25" height="3.3" shape-rendering="auto"/>
<rect x="469.9" y="132" width="1.25" height="4" shape-rendering="auto"/>
<rect x="469.9" y="388.2" width="1.25" height="3.3" shape-rendering="auto"/>
<rect x="484.9" y="132" width="2" height="9"/>
<rect x="484.9" y="382" width="2" height="9"/>
<rect x="500.6" y="132" width="1.25" height="4" shape-rendering="auto"/>
<rect x="500.6" y="388.2" width="1.25" height="3.3" shape-rendering="auto"/>
<rect x="515.9" y="132" width="1.25" height="4" shape-rendering="auto"/>
<rect x="515.9" y="388.2" width="1.25" height="3.3" shape-rendering="auto"/>
<rect x="531.3" y="132" width="1.25" height="4" shape-rendering="auto"/>
<rect x="531.3" y="388.2" width="1.25" height="3.3" shape-rendering="auto"/>
<rect x="546.6" y="132" width="1.25" height="4" shape-rendering="auto"/>
<rect x="546.6" y="388.2" width="1.25" height="3.3" shape-rendering="auto"/>
<rect x="561.6" y="132" width="2" height="9"/>
<rect x="561.6" y="382" width="2" height="9"/>
<rect x="577.3" y="132" width="1.25" height="4" shape-rendering="auto"/>
<rect x="577.3" y="388.2" width="1.25" height="3.3" shape-rendering="auto"/>
<rect x="592.7" y="132" width="1.25" height="4" shape-rendering="auto"/>
<rect x="592.7" y="388.2" width="1.25" height="3.3" shape-rendering="auto"/>
<rect x="608.0" y="132" width="1.25" height="4" shape-rendering="auto"/>
<rect x="608.0" y="388.2" width="1.25" height="3.3" shape-rendering="auto"/>
<rect x="623.4" y="132" width="1.25" height="4" shape-rendering="auto"/>
<rect x="623.4" y="388.2" width="1.25" height="3.3" shape-rendering="auto"/>
<rect x="638.4" y="132" width="2" height="9"/>
<rect x="638.4" y="382" width="2" height="9"/>
<rect x="257" y="375.9" width="4" height="1.25" shape-rendering="auto"/>
<rect x="643" y="375.9" width="4" height="1.25" shape-rendering="auto"/>
<rect x="257" y="358.3" width="4" height="1.25" shape-rendering="auto"/>
<rect x="643" y="358.3" width="4" height="1.25" shape-rendering="auto"/>
<rect x="257" y="340.7" width="4" height="1.25" shape-rendering="auto"/>
<rect x="643" y="340.7" width="4" height="1.25" shape-rendering="auto"/>
<rect x="257" y="323.0" width="4" height="1.25" shape-rendering="auto"/>
<rect x="643" y="323.0" width="4" height="1.25" shape-rendering="auto"/>
<rect x="257" y="305.0" width="9" height="2"/>
<rect x="638" y="305.0" width="9" height="2"/>
<rect x="257" y="287.7" width="4" height="1.25" shape-rendering="auto"/>
<rect x="643" y="287.7" width="4" height="1.25" shape-rendering="auto"/>
<rect x="257" y="270.1" width="4" height="1.25" shape-rendering="auto"/>
<rect x="643" y="270.1" width="4" height="1.25" shape-rendering="auto"/>
<rect x="257" y="252.5" width="4" height="1.25" shape-rendering="auto"/>
<rect x="643" y="252.5" width="4" height="1.25" shape-rendering="auto"/>
<rect x="257" y="234.8" width="4" height="1.25" shape-rendering="auto"/>
<rect x="643" y="234.8" width="4" height="1.25" shape-rendering="auto"/>
<rect x="257" y="216.8" width="9" height="2"/>
<rect x="638" y="216.8" width="9" height="2"/>
<rect x="257" y="199.5" width="4" height="1.25" shape-rendering="auto"/>
<rect x="643" y="199.5" width="4" height="1.25" shape-rendering="auto"/>
<rect x="257" y="181.9" width="4" height="1.25" shape-rendering="auto"/>
<rect x="643" y="181.9" width="4" height="1.25" shape-rendering="auto"/>
<rect x="257" y="164.3" width="4" height="1.25" shape-rendering="auto"/>
<rect x="643" y="164.3" width="4" height="1.25" shape-rendering="auto"/>
<rect x="257" y="146.6" width="4" height="1.25" shape-rendering="auto"/>
<rect x="643" y="146.6" width="4" height="1.25" shape-rendering="auto"/>
</g>
<rect x="663.3" y="195" width="14.5" height="198" fill="#000"/>
<rect x="665.1" y="197" width="10.9" height="41" fill="#ffe0e0"/>
<rect x="665.1" y="240" width="10.9" height="14" fill="#ffc0c0"/>
<rect x="665.1" y="256" width="10.9" height="15" fill="#ff8080"/>
<rect x="665.1" y="273" width="10.9" height="15" fill="#ff1010"/>
<rect x="665.1" y="290" width="10.9" height="15.5" fill="#ff6800"/>
<rect x="665.1" y="306.7" width="10.9" height="3.3" fill="#ffa000"/>
<rect x="665.1" y="311.5" width="10.9" height="4.5" fill="#ffd000"/>
<rect x="665.1" y="317.7" width="10.9" height="4.3" fill="#ffff00"/>
<rect x="665.1" y="323.8" width="10.9" height="3.2" fill="#00f0ff"/>
<rect x="665.1" y="328.7" width="10.9" height="4.3" fill="#0030ff"/>
<rect x="665.1" y="334.6" width="10.9" height="4.2" fill="#0000a0"/>
<rect x="665.1" y="340.8" width="10.9" height="14" fill="#7800b0"/>
<rect x="665.1" y="357" width="10.9" height="15" fill="#b800b0"/>
<rect x="665.1" y="374" width="10.9" height="17" fill="#f000b0"/>
<path d="M337.84 70.44 L343.84 84.30 M349.84 70.44 L343.84 84.30 M354.07 76.38 L366.07 76.38 L366.07 74.40 L365.07 72.42 L364.07 71.43 L362.07 70.44 L359.07 70.44 L357.07 71.43 L355.07 73.41 L354.07 76.38 L354.07 78.36 L355.07 81.33 L357.07 83.31 L359.07 84.30 L362.07 84.30 L364.07 83.31 L366.07 81.33 M372.38 70.44 L372.38 84.30 M372.38 76.38 L373.38 73.41 L375.38 71.43 L377.38 70.44 L380.38 70.44 M385.81 63.51 L385.81 80.34 L386.81 83.31 L388.81 84.30 L390.81 84.30 M382.81 70.44 L389.81 70.44 M395.37 63.51 L396.37 64.50 L397.37 63.51 L396.37 62.52 L395.37 63.51 M396.37 70.44 L396.37 84.30 M414.78 73.41 L412.78 71.43 L410.78 70.44 L407.78 70.44 L405.78 71.43 L403.78 73.41 L402.78 76.38 L402.78 78.36 L403.78 81.33 L405.78 83.31 L407.78 84.30 L410.78 84.30 L412.78 83.31 L414.78 81.33 M431.95 70.44 L431.95 84.30 M431.95 73.41 L429.95 71.43 L427.95 70.44 L424.95 70.44 L422.95 71.43 L420.95 73.41 L419.95 76.38 L419.95 78.36 L420.95 81.33 L422.95 83.31 L424.95 84.30 L427.95 84.30 L429.95 83.31 L431.95 81.33 M439.34 63.51 L439.34 84.30 M460.08 70.44 L466.08 84.30 M472.08 70.44 L466.08 84.30 M476.31 76.38 L488.31 76.38 L488.31 74.40 L487.31 72.42 L486.31 71.43 L484.31 70.44 L481.31 70.44 L479.31 71.43 L477.31 73.41 L476.31 76.38 L476.31 78.36 L477.31 81.33 L479.31 83.31 L481.31 84.30 L484.31 84.30 L486.31 83.31 L488.31 81.33 M494.73 63.51 L494.73 84.30 M506.12 70.44 L504.12 71.43 L502.12 73.41 L501.12 76.38 L501.12 78.36 L502.12 81.33 L504.12 83.31 L506.12 84.30 L509.12 84.30 L511.12 83.31 L513.12 81.33 L514.12 78.36 L514.12 76.38 L513.12 73.41 L511.12 71.43 L509.12 70.44 L506.12 70.44 M531.29 73.41 L529.29 71.43 L527.29 70.44 L524.29 70.44 L522.29 71.43 L520.29 73.41 L519.29 76.38 L519.29 78.36 L520.29 81.33 L522.29 83.31 L524.29 84.30 L527.29 84.30 L529.29 83.31 L531.29 81.33 M536.70 63.51 L537.70 64.50 L538.70 63.51 L537.70 62.52 L536.70 63.51 M537.70 70.44 L537.70 84.30 M546.25 63.51 L546.25 80.34 L547.25 83.31 L549.25 84.30 L551.25 84.30 M543.25 70.44 L550.25 70.44 M554.62 70.44 L560.62 84.30 M566.62 70.44 L560.62 84.30 L558.62 88.26 L556.62 90.24 L554.62 91.23 L553.62 91.23" fill="none" stroke="#000" stroke-width="1.6" stroke-linecap="round" stroke-linejoin="round"/>
<path d="M169.68 96.01 L168.72 96.83 L167.76 98.06 L166.80 99.70 L166.31 101.75 L166.31 103.40 L166.80 105.45 L167.76 107.09 L168.72 108.32 L169.68 109.14 M174.03 99.66 L181.83 107.37 M181.83 99.66 L174.03 107.37 M187.23 98.29 L188.43 97.72 L190.23 96.01 L190.23 108.00 M197.73 96.01 L197.73 108.00 M197.73 96.01 L205.53 96.01 M197.73 101.72 L202.53 101.72 M197.73 108.00 L205.53 108.00 M214.24 96.01 L208.24 104.00 L217.24 104.00 M214.24 96.01 L214.24 108.00 M229.83 100.01 L229.83 108.00 M229.83 102.29 L231.62 100.58 L232.83 100.01 L234.62 100.01 L235.83 100.58 L236.43 102.29 L236.43 108.00 M236.43 102.29 L238.23 100.58 L239.43 100.01 L241.23 100.01 L242.43 100.58 L243.03 102.29 L243.03 108.00 M247.01 96.01 L247.98 96.83 L248.94 98.06 L249.89 99.70 L250.38 101.75 L250.38 103.40 L249.89 105.45 L248.94 107.09 L247.98 108.32 L247.01 109.14" fill="none" stroke="#000" stroke-width="2.1" stroke-linecap="round" stroke-linejoin="round"/>
<path d="M572.38 425.61 L571.41 426.43 L570.46 427.66 L569.50 429.30 L569.01 431.35 L569.01 433.00 L569.50 435.05 L570.46 436.69 L571.41 437.92 L572.38 438.74 M576.73 429.26 L584.53 436.97 M584.53 429.26 L576.73 436.97 M589.92 427.89 L591.12 427.32 L592.92 425.61 L592.92 437.60 M600.43 425.61 L600.43 437.60 M600.43 425.61 L608.23 425.61 M600.43 431.32 L605.23 431.32 M600.43 437.60 L608.23 437.60 M618.14 425.61 L612.14 425.61 L611.54 430.75 L612.14 430.18 L613.94 429.61 L615.74 429.61 L617.54 430.18 L618.74 431.32 L619.34 433.03 L619.34 434.17 L618.74 435.89 L617.54 437.03 L615.74 437.60 L613.94 437.60 L612.14 437.03 L611.54 436.46 L610.94 435.32 M632.52 429.61 L632.52 437.60 M632.52 431.89 L634.33 430.18 L635.52 429.61 L637.33 429.61 L638.52 430.18 L639.12 431.89 L639.12 437.60 M639.12 431.89 L640.92 430.18 L642.12 429.61 L643.92 429.61 L645.12 430.18 L645.73 431.89 L645.73 437.60 M649.72 425.61 L650.67 426.43 L651.63 427.66 L652.60 429.30 L653.08 431.35 L653.08 433.00 L652.60 435.05 L651.63 436.69 L650.67 437.92 L649.72 438.74" fill="none" stroke="#000" stroke-width="2.1" stroke-linecap="round" stroke-linejoin="round"/>
<path d="M657.50 131.60 L657.50 140.10 L658.00 141.60 L659.00 142.10 L660.00 142.10 M656.00 135.10 L659.50 135.10 M663.62 136.10 L672.62 136.10 M663.62 139.10 L672.62 139.10 M683.88 131.60 L678.88 142.10 M676.88 131.60 L683.88 131.60 M690.54 131.60 L689.04 132.10 L688.04 133.60 L687.54 136.10 L687.54 137.60 L688.04 140.10 L689.04 141.60 L690.54 142.10 L691.54 142.10 L693.04 141.60 L694.04 140.10 L694.54 137.60 L694.54 136.10 L694.04 133.60 L693.04 132.10 L691.54 131.60 L690.54 131.60 M698.70 134.10 L698.70 133.60 L699.20 132.60 L699.70 132.10 L700.70 131.60 L702.70 131.60 L703.70 132.10 L704.20 132.60 L704.70 133.60 L704.70 134.60 L704.20 135.60 L703.20 137.10 L698.20 142.10 L705.20 142.10 M711.86 131.60 L710.36 132.10 L709.36 133.60 L708.86 136.10 L708.86 137.60 L709.36 140.10 L710.36 141.60 L711.86 142.10 L712.86 142.10 L714.36 141.60 L715.36 140.10 L715.86 137.60 L715.86 136.10 L715.36 133.60 L714.36 132.10 L712.86 131.60 L711.86 131.60 M722.52 131.60 L721.02 132.10 L720.02 133.60 L719.52 136.10 L719.52 137.60 L720.02 140.10 L721.02 141.60 L722.52 142.10 L723.52 142.10 L725.02 141.60 L726.02 140.10 L726.52 137.60 L726.52 136.10 L726.02 133.60 L725.02 132.10 L723.52 131.60 L722.52 131.60 M744.16 136.60 L743.66 135.60 L742.16 135.10 L740.66 135.10 L739.16 135.60 L738.66 136.60 L739.16 137.60 L740.16 138.10 L742.66 138.60 L743.66 139.10 L744.16 140.10 L744.16 140.60 L743.66 141.60 L742.16 142.10 L740.66 142.10 L739.16 141.60 L738.66 140.60" fill="none" stroke="#000" stroke-width="1.3" stroke-linecap="round" stroke-linejoin="round"/>
<path d="M373.75 451.45 L384.95 468.25 M384.95 451.45 L373.75 468.25 M389.75 461.05 L404.14 461.05 M418.57 459.45 L416.97 457.85 L415.38 457.05 L412.97 457.05 L411.38 457.85 L409.77 459.45 L408.97 461.85 L408.97 463.45 L409.77 465.85 L411.38 467.45 L412.97 468.25 L415.38 468.25 L416.97 467.45 L418.57 465.85 M426.73 457.05 L425.13 457.85 L423.53 459.45 L422.73 461.85 L422.73 463.45 L423.53 465.85 L425.13 467.45 L426.73 468.25 L429.13 468.25 L430.73 467.45 L432.33 465.85 L433.13 463.45 L433.13 461.85 L432.33 459.45 L430.73 457.85 L429.13 457.05 L426.73 457.05 M441.26 457.05 L439.66 457.85 L438.06 459.45 L437.26 461.85 L437.26 463.45 L438.06 465.85 L439.66 467.45 L441.26 468.25 L443.66 468.25 L445.26 467.45 L446.86 465.85 L447.66 463.45 L447.66 461.85 L446.86 459.45 L445.26 457.85 L443.66 457.05 L441.26 457.05 M452.70 457.05 L452.70 468.25 M452.70 461.85 L453.50 459.45 L455.10 457.85 L456.70 457.05 L459.10 457.05 M471.34 451.45 L471.34 468.25 M471.34 459.45 L469.74 457.85 L468.14 457.05 L465.74 457.05 L464.14 457.85 L462.54 459.45 L461.74 461.85 L461.74 463.45 L462.54 465.85 L464.14 467.45 L465.74 468.25 L468.14 468.25 L469.74 467.45 L471.34 465.85 M476.47 451.45 L477.27 452.25 L478.07 451.45 L477.27 450.65 L476.47 451.45 M477.27 457.05 L477.27 468.25 M483.20 457.05 L483.20 468.25 M483.20 460.25 L485.60 457.85 L487.20 457.05 L489.60 457.05 L491.20 457.85 L492.00 460.25 L492.00 468.25 M506.53 457.05 L506.53 468.25 M506.53 459.45 L504.93 457.85 L503.33 457.05 L500.93 457.05 L499.33 457.85 L497.73 459.45 L496.93 461.85 L496.93 463.45 L497.73 465.85 L499.33 467.45 L500.93 468.25 L503.33 468.25 L504.93 467.45 L506.53 465.85 M513.19 451.45 L513.19 465.05 L513.99 467.45 L515.59 468.25 L517.19 468.25 M510.79 457.05 L516.39 457.05 M520.66 461.85 L530.26 461.85 L530.26 460.25 L529.46 458.65 L528.66 457.85 L527.06 457.05 L524.66 457.05 L523.06 457.85 L521.46 459.45 L520.66 461.85 L520.66 463.45 L521.46 465.85 L523.06 467.45 L524.66 468.25 L527.06 468.25 L528.66 467.45 L530.26 465.85" fill="none" stroke="#000" stroke-width="1.6" stroke-linecap="round" stroke-linejoin="round"/>
<path d="M200.45 328.15 L217.25 339.35 M200.45 339.35 L200.45 328.15 M217.25 339.35 L217.25 328.15 M210.05 323.35 L210.05 308.95 M208.45 294.52 L206.85 296.12 L206.05 297.72 L206.05 300.12 L206.85 301.72 L208.45 303.32 L210.85 304.12 L212.45 304.12 L214.85 303.32 L216.45 301.72 L217.25 300.12 L217.25 297.72 L216.45 296.12 L214.85 294.52 M206.05 286.37 L206.85 287.97 L208.45 289.57 L210.85 290.37 L212.45 290.37 L214.85 289.57 L216.45 287.97 L217.25 286.37 L217.25 283.97 L216.45 282.37 L214.85 280.77 L212.45 279.97 L210.85 279.97 L208.45 280.77 L206.85 282.37 L206.05 283.97 L206.05 286.37 M206.05 271.84 L206.85 273.44 L208.45 275.04 L210.85 275.84 L212.45 275.84 L214.85 275.04 L216.45 273.44 L217.25 271.84 L217.25 269.44 L216.45 267.84 L214.85 266.24 L212.45 265.44 L210.85 265.44 L208.45 266.24 L206.85 267.84 L206.05 269.44 L206.05 271.84 M206.05 260.40 L217.25 260.40 M210.85 260.40 L208.45 259.60 L206.85 258.00 L206.05 256.40 L206.05 254.00 M200.45 241.76 L217.25 241.76 M208.45 241.76 L206.85 243.36 L206.05 244.96 L206.05 247.36 L206.85 248.96 L208.45 250.56 L210.85 251.36 L212.45 251.36 L214.85 250.56 L216.45 248.96 L217.25 247.36 L217.25 244.96 L216.45 243.36 L214.85 241.76 M200.45 236.63 L201.25 235.83 L200.45 235.03 L199.65 235.83 L200.45 236.63 M206.05 235.83 L217.25 235.83 M206.05 229.90 L217.25 229.90 M209.25 229.90 L206.85 227.50 L206.05 225.90 L206.05 223.50 L206.85 221.90 L209.25 221.10 L217.25 221.10 M206.05 206.57 L217.25 206.57 M208.45 206.57 L206.85 208.17 L206.05 209.77 L206.05 212.17 L206.85 213.77 L208.45 215.37 L210.85 216.17 L212.45 216.17 L214.85 215.37 L216.45 213.77 L217.25 212.17 L217.25 209.77 L216.45 208.17 L214.85 206.57 M200.45 199.91 L214.05 199.91 L216.45 199.11 L217.25 197.51 L217.25 195.91 M206.05 202.31 L206.05 196.71 M210.85 192.44 L210.85 182.83 L209.25 182.83 L207.65 183.63 L206.85 184.44 L206.05 186.03 L206.05 188.44 L206.85 190.03 L208.45 191.63 L210.85 192.44 L212.45 192.44 L214.85 191.63 L216.45 190.03 L217.25 188.44 L217.25 186.03 L216.45 184.44 L214.85 182.83" fill="none" stroke="#000" stroke-width="1.6" stroke-linecap="round" stroke-linejoin="round"/>
<path d="M330.16 404.48 L331.28 403.92 L332.96 402.24 L332.96 414.00" fill="none" stroke="#000" stroke-width="1.9" stroke-linecap="round" stroke-linejoin="round"/>
<path d="M405.84 405.04 L405.84 404.48 L406.40 403.36 L406.96 402.80 L408.08 402.24 L410.32 402.24 L411.44 402.80 L412.00 403.36 L412.56 404.48 L412.56 405.60 L412.00 406.72 L410.88 408.40 L405.28 414.00 L413.12 414.00" fill="none" stroke="#000" stroke-width="1.9" stroke-linecap="round" stroke-linejoin="round"/>
<path d="M483.20 402.24 L489.36 402.24 L486.00 406.72 L487.68 406.72 L488.80 407.28 L489.36 407.84 L489.92 409.52 L489.92 410.64 L489.36 412.32 L488.24 413.44 L486.56 414.00 L484.88 414.00 L483.20 413.44 L482.64 412.88 L482.08 411.76" fill="none" stroke="#000" stroke-width="1.9" stroke-linecap="round" stroke-linejoin="round"/>
<path d="M564.48 402.24 L558.88 410.08 L567.28 410.08 M564.48 402.24 L564.48 414.00" fill="none" stroke="#000" stroke-width="1.9" stroke-linecap="round" stroke-linejoin="round"/>
<path d="M642.40 402.24 L636.80 402.24 L636.24 407.28 L636.80 406.72 L638.48 406.16 L640.16 406.16 L641.84 406.72 L642.96 407.84 L643.52 409.52 L643.52 410.64 L642.96 412.32 L641.84 413.44 L640.16 414.00 L638.48 414.00 L636.80 413.44 L636.24 412.88 L635.68 411.76" fill="none" stroke="#000" stroke-width="1.9" stroke-linecap="round" stroke-linejoin="round"/>
<path d="M238.26 301.68 L239.38 301.12 L241.06 299.44 L241.06 311.20" fill="none" stroke="#000" stroke-width="1.9" stroke-linecap="round" stroke-linejoin="round"/>
<path d="M237.14 214.54 L237.14 213.98 L237.70 212.86 L238.26 212.30 L239.38 211.74 L241.62 211.74 L242.74 212.30 L243.30 212.86 L243.86 213.98 L243.86 215.10 L243.30 216.22 L242.18 217.90 L236.58 223.50 L244.42 223.50" fill="none" stroke="#000" stroke-width="1.9" stroke-linecap="round" stroke-linejoin="round"/>
<path d="M689.18 233.89 L690.24 233.36 L691.83 231.77 L691.83 242.90 M704.55 231.77 L699.25 231.77 L698.72 236.54 L699.25 236.01 L700.84 235.48 L702.43 235.48 L704.02 236.01 L705.08 237.07 L705.61 238.66 L705.61 239.72 L705.08 241.31 L704.02 242.37 L702.43 242.90 L700.84 242.90 L699.25 242.37 L698.72 241.84 L698.19 240.78" fill="none" stroke="#000" stroke-width="1.9" stroke-linecap="round" stroke-linejoin="round"/>
<path d="M694.48 284.36 L693.95 283.30 L692.36 282.77 L691.30 282.77 L689.71 283.30 L688.65 284.89 L688.12 287.54 L688.12 290.19 L688.65 292.31 L689.71 293.37 L691.30 293.90 L691.83 293.90 L693.42 293.37 L694.48 292.31 L695.01 290.72 L695.01 290.19 L694.48 288.60 L693.42 287.54 L691.83 287.01 L691.30 287.01 L689.71 287.54 L688.65 288.60 L688.12 290.19" fill="none" stroke="#000" stroke-width="1.9" stroke-linecap="round" stroke-linejoin="round"/>
<path d="M689.18 313.09 L690.24 312.56 L691.83 310.97 L691.83 322.10" fill="none" stroke="#000" stroke-width="1.9" stroke-linecap="round" stroke-linejoin="round"/>
<path d="M687.72 334.43 L697.26 334.43 M701.50 330.72 L701.50 330.19 L702.03 329.13 L702.56 328.60 L703.62 328.07 L705.74 328.07 L706.80 328.60 L707.33 329.13 L707.86 330.19 L707.86 331.25 L707.33 332.31 L706.27 333.90 L700.97 339.20 L708.39 339.20" fill="none" stroke="#000" stroke-width="1.9" stroke-linecap="round" stroke-linejoin="round"/>
<path d="M687.72 373.23 L697.26 373.23 M707.86 370.58 L707.33 372.17 L706.27 373.23 L704.68 373.76 L704.15 373.76 L702.56 373.23 L701.50 372.17 L700.97 370.58 L700.97 370.05 L701.50 368.46 L702.56 367.40 L704.15 366.87 L704.68 366.87 L706.27 367.40 L707.33 368.46 L707.86 370.58 L707.86 373.23 L707.33 375.88 L706.27 377.47 L704.68 378.00 L703.62 378.00 L702.03 377.47 L701.50 376.41" fill="none" stroke="#000" stroke-width="1.9" stroke-linecap="round" stroke-linejoin="round"/>
</svg></body></html>
